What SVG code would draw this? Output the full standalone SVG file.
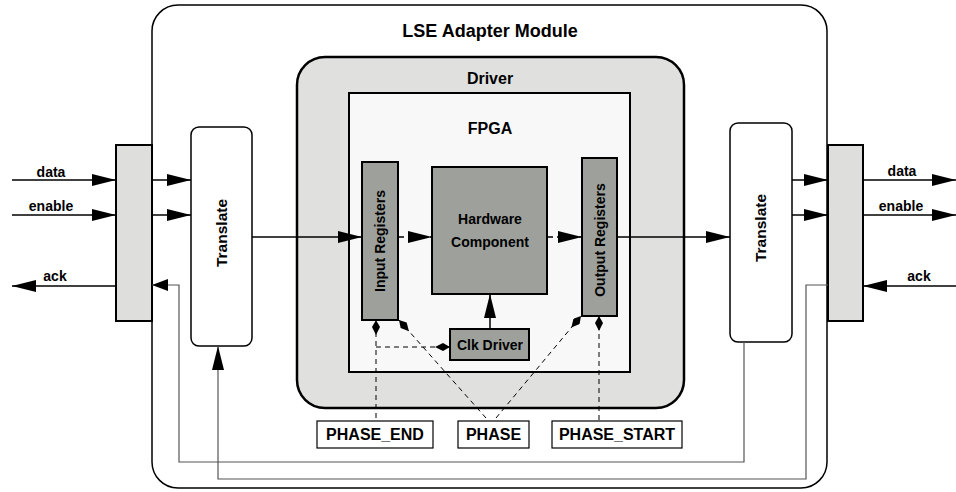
<svg xmlns="http://www.w3.org/2000/svg" width="956" height="492" viewBox="0 0 956 492">
<style>
text{font-family:"Liberation Sans",Arial,sans-serif;font-weight:bold;fill:#000;text-anchor:middle}
.box{stroke:#000;stroke-width:2}
.adapter{fill:#dedfdc}
.reg{fill:#9da09b}
.wire{fill:none;stroke:#000;stroke-width:1.5}
.fb{fill:none;stroke:#555;stroke-width:1.2}
.dash{fill:none;stroke:#000;stroke-width:1;stroke-dasharray:5,4}
.dashdot{fill:none;stroke:#000;stroke-width:1.5;stroke-dasharray:6,4,2,4}
.lbl{font-size:14px}
.ph{fill:#fff;stroke:#000;stroke-width:1.2}
</style>
<defs>
<marker id="ah" viewBox="0 0 24 12" refX="24" refY="6" markerWidth="24" markerHeight="12" orient="auto" markerUnits="userSpaceOnUse"><path d="M0,0 L24,6 L0,12 z" fill="#000"/></marker>
<marker id="ahs" viewBox="0 0 16 12" refX="16" refY="6" markerWidth="16" markerHeight="12" orient="auto" markerUnits="userSpaceOnUse"><path d="M0,0 L16,6 L0,12 z" fill="#000"/></marker>
<marker id="dm" viewBox="0 0 15 8" refX="15" refY="4" markerWidth="15" markerHeight="8" orient="auto" markerUnits="userSpaceOnUse"><path d="M0,4 L8,0 L15,4 L8,8 z" fill="#000"/></marker>
</defs>

<g id="module">
<rect x="152" y="5" width="675" height="483" rx="26" fill="#fff" stroke="#000" stroke-width="1.5"/>
<text x="490" y="37" font-size="18">LSE Adapter Module</text>
</g>

<g id="adapter-left"><rect class="box adapter" x="116" y="145" width="36" height="176"/></g>
<g id="adapter-right"><rect class="box adapter" x="828" y="145" width="35" height="176"/></g>

<g id="translate-left">
<rect x="191" y="127" width="61" height="219" rx="8" fill="#fff" stroke="#000" stroke-width="1.5"/>
<text transform="translate(227,233) rotate(-90)" font-size="15.5">Translate</text>
</g>
<g id="translate-right">
<rect x="730" y="123" width="62" height="219" rx="8" fill="#fff" stroke="#000" stroke-width="1.5"/>
<text transform="translate(766,228) rotate(-90)" font-size="15.5">Translate</text>
</g>

<g id="driver">
<rect x="297" y="57" width="387" height="351" rx="28" fill="#e0e1df" stroke="#000" stroke-width="2.5"/>
<text x="490" y="84" font-size="16">Driver</text>
</g>
<g id="fpga">
<rect x="349" y="93" width="281" height="279" fill="#f8f8f8" stroke="#000" stroke-width="2"/>
<text x="490" y="134" font-size="16">FPGA</text>
</g>

<g id="input-registers">
<rect class="box reg" x="362" y="162" width="36" height="158"/>
<text transform="translate(385,241) rotate(-90)" font-size="14">Input Registers</text>
</g>
<g id="hardware-component">
<rect class="box reg" x="432" y="167" width="115" height="127"/>
<text x="490" y="224" font-size="14">Hardware</text>
<text x="490" y="247" font-size="14">Component</text>
</g>
<g id="output-registers">
<rect class="box reg" x="582" y="158" width="35" height="158"/>
<text transform="translate(605,240) rotate(-90)" font-size="14">Output Registers</text>
</g>
<g id="clk-driver">
<rect class="box reg" x="450" y="329" width="79" height="31"/>
<text x="490" y="350" font-size="14">Clk Driver</text>
</g>

<g id="phase-end"><rect class="ph" x="317" y="421" width="116" height="27"/><text x="375" y="440" font-size="16">PHASE_END</text></g>
<g id="phase"><rect class="ph" x="458" y="421" width="71" height="27"/><text x="493.5" y="440" font-size="16">PHASE</text></g>
<g id="phase-start"><rect class="ph" x="552" y="421" width="130" height="27"/><text x="617" y="440" font-size="16">PHASE_START</text></g>

<g id="labels" class="lbl">
<text x="51" y="177" font-size="14">data</text>
<text x="51" y="211" font-size="14">enable</text>
<text x="55" y="281" font-size="14">ack</text>
<text x="902" y="176" font-size="14">data</text>
<text x="901" y="211" font-size="14">enable</text>
<text x="919" y="281" font-size="14">ack</text>
</g>

<g id="connectors">
<path class="wire" d="M12,180 H116" marker-end="url(#ah)"/>
<path class="wire" d="M12,215 H116" marker-end="url(#ah)"/>
<path class="wire" d="M116,286 H12" marker-end="url(#ah)"/>
<path class="wire" d="M152,180 H191" marker-end="url(#ah)"/>
<path class="wire" d="M152,215 H191" marker-end="url(#ah)"/>
<path class="wire" d="M252,237 H362" marker-end="url(#ah)"/>
<path class="dashdot" d="M398,237 H432" marker-end="url(#ah)"/>
<path class="dashdot" d="M547,237 H582" marker-end="url(#ah)"/>
<path class="wire" d="M617,237 H730" marker-end="url(#ah)"/>
<path class="wire" d="M792,180 H828" marker-end="url(#ah)"/>
<path class="wire" d="M792,215 H828" marker-end="url(#ah)"/>
<path class="wire" d="M863,180 H956" marker-end="url(#ah)"/>
<path class="wire" d="M863,215 H956" marker-end="url(#ah)"/>
<path class="wire" d="M956,286 H863" marker-end="url(#ah)"/>
<path class="wire" d="M490,329 V294" marker-end="url(#ah)"/>
<path class="fb" d="M744,342 V462 H179 V285 H152" marker-end="url(#ahs)"/>
<path class="fb" d="M828,285 H806 V479 H218 V346" marker-end="url(#ah)"/>
<path class="dash" d="M376,418 V320" marker-end="url(#dm)"/>
<path class="dash" d="M376,347 H450" marker-end="url(#dm)"/>
<path class="dash" d="M486,418 L399,320" marker-end="url(#dm)"/>
<path class="dash" d="M496,418 L581,316" marker-end="url(#dm)"/>
<path class="dash" d="M599,420 V316" marker-end="url(#dm)"/>
</g>
</svg>
